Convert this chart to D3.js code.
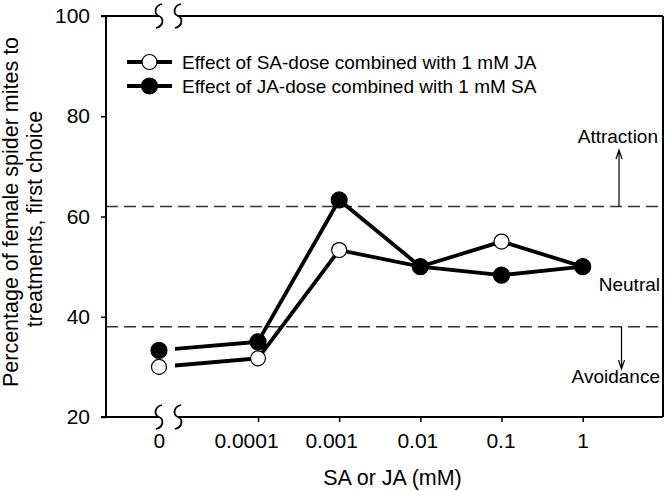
<!DOCTYPE html>
<html><head><meta charset="utf-8">
<script src="https://cdn.jsdelivr.net/npm/d3@7"></script>
<style>
body{margin:0;background:#fff}
text{font-family:"Liberation Sans",Arial,Helvetica,sans-serif;fill:#000}
</style>
</head><body><svg id="c" width="668" height="491"></svg>
<script>
// ---- data ----
const doses = [0, 0.0001, 0.001, 0.01, 0.1, 1];
const tickLabels = ["0", "0.0001", "0.001", "0.01", "0.1", "1"];
const saDoseWithJA = [30.0, 31.7, 53.3, 50.0, 55.0, 50.0];
const jaDoseWithSA = [33.3, 35.0, 63.3, 50.0, 48.3, 50.0];
const yTicks = [20, 40, 60, 80, 100];
const thresholds = [62, 38];
const seriesNames = ["Effect of SA-dose combined with 1 mM JA", "Effect of JA-dose combined with 1 mM SA"];
const zoneLabels = ["Attraction", "Neutral", "Avoidance"];

// ---- layout ----
const svg = d3.select("#c");
const L = 106, R = 663, T = 16, B = 417;
const xLog = d3.scaleLog().domain([1e-4, 1]).range([258, 582.7]);
const zeroStandIn = Math.pow(10, -5.22); // broken-axis position for dose 0
const xp = d => d === 0 ? xLog(zeroStandIn) : xLog(d);
const y = d3.scaleLinear().domain([20, 100]).range([B, T]);
const bA = xp(0), bB = xp(0) + 19;
const labelNudge = [0, -12, -8, -3, -1, 0]; // label offsets as in the original figure

// ---- threshold dashed lines ----
svg.append("g").selectAll("line").data(thresholds).join("line")
  .attr("x1", L).attr("x2", R)
  .attr("y1", d => y(d)).attr("y2", d => y(d))
  .attr("stroke", "#333").attr("stroke-width", 1.5)
  .attr("stroke-dasharray", "12,6");

// ---- y axis ----
const yAx = svg.append("g").attr("transform", `translate(${L},0)`)
  .call(d3.axisLeft(y).tickValues(yTicks).tickSize(5).tickPadding(11));
yAx.select(".domain").remove();
yAx.selectAll("line").attr("stroke", "#000").attr("stroke-width", 1.5);
yAx.selectAll("text").attr("font-size", 21).attr("font-family", "Liberation Sans, Arial, sans-serif").attr("fill", "#000");

// ---- x axis ----
const xVals = doses.map(d => d === 0 ? zeroStandIn : d);
const xAx = svg.append("g").attr("transform", `translate(0,${B})`)
  .call(d3.axisBottom(xLog).tickValues(xVals).tickFormat((d, i) => tickLabels[i]).tickSize(5).tickPadding(11));
xAx.select(".domain").remove();
xAx.selectAll("line").attr("stroke", "#000").attr("stroke-width", 1.5);
xAx.selectAll(".tick").filter((d, i) => i === 0).select("line").remove();
xAx.selectAll(".tick").each(function(d, i) {
  d3.select(this).select("text")
    .attr("x", labelNudge[i])
    .attr("font-size", 21).attr("font-family", "Liberation Sans, Arial, sans-serif").attr("fill", "#000");
});

// ---- frame with axis breaks ----
const frame = svg.append("g").attr("fill", "none").attr("stroke", "#000").attr("stroke-width", 2);
frame.append("path").attr("d", `M${L},${T}V${B}M${R},${T}V${B}`);
[T, B].forEach(yy => {
  frame.append("path").attr("d", `M${L - 5},${yy}H${bA}M${bB},${yy}H${R}`);
  [bA, bB].forEach(bx => {
    frame.append("path").attr("stroke-width", 1.8)
      .attr("d", `M${bx + 3},${yy - 12} C${bx - 5},${yy - 10} ${bx - 5},${yy - 2} ${bx},${yy} C${bx + 5},${yy + 2} ${bx + 5},${yy + 10} ${bx - 3},${yy + 12}`);
  });
});

// ---- series ----
svg.append("clipPath").attr("id", "clipBreak").append("rect")
  .attr("x", bB - 3).attr("y", 0).attr("width", R - bB + 3).attr("height", 491);
const line = d3.line().x((d, i) => xp(doses[i])).y(d => y(d));
const series = [
  {vals: saDoseWithJA, fill: "#fff", r: 7.5},
  {vals: jaDoseWithSA, fill: "#000", r: 8}
];
series.forEach(s => {
  svg.append("path").datum(s.vals).attr("d", line)
    .attr("fill", "none").attr("stroke", "#000").attr("stroke-width", 3.8)
    .attr("clip-path", "url(#clipBreak)");
});
series.forEach(s => {
  svg.append("g").selectAll("circle").data(s.vals).join("circle")
    .attr("cx", (d, i) => xp(doses[i])).attr("cy", d => y(d)).attr("r", s.r)
    .attr("fill", s.fill).attr("stroke", "#000").attr("stroke-width", 1.2);
});

// ---- legend ----
const lg = svg.append("g");
series.forEach((s, i) => {
  const ly = 62 + i * 24;
  lg.append("line").attr("x1", 127).attr("x2", 172).attr("y1", ly).attr("y2", ly)
    .attr("stroke", "#000").attr("stroke-width", 3.8);
  lg.append("circle").attr("cx", 149.5).attr("cy", ly).attr("r", s.r)
    .attr("fill", s.fill).attr("stroke", "#000").attr("stroke-width", 1.2);
  lg.append("text").attr("x", 182).attr("y", ly + 7).attr("font-size", 19).text(seriesNames[i]);
});

// ---- zone annotations ----
const ann = svg.append("g");
ann.append("text").attr("x", 658).attr("y", 143).attr("text-anchor", "end").attr("font-size", 19).text(zoneLabels[0]);
ann.append("text").attr("x", 660).attr("y", 291).attr("text-anchor", "end").attr("font-size", 19).text(zoneLabels[1]);
ann.append("text").attr("x", 660).attr("y", 383).attr("text-anchor", "end").attr("font-size", 19).text(zoneLabels[2]);
const arrows = [
  {x: 619, y0: y(thresholds[0]), y1: 150, dir: -1},
  {x: 621.5, y0: y(thresholds[1]), y1: 369, dir: 1}
];
arrows.forEach(a => {
  ann.append("path")
    .attr("d", `M${a.x},${a.y0}V${a.y1}M${a.x - 3},${a.y1 - a.dir * 9}L${a.x},${a.y1}L${a.x + 3},${a.y1 - a.dir * 9}`)
    .attr("fill", "none").attr("stroke", "#000").attr("stroke-width", 1.2);
});

// ---- axis titles ----
svg.append("text").attr("x", 392.5).attr("y", 485).attr("text-anchor", "middle").attr("font-size", 21.5).text("SA or JA (mM)");
svg.append("text").attr("transform", "translate(18,212) rotate(-90)").attr("text-anchor", "middle").attr("font-size", 21.5)
  .text("Percentage of female spider mites to");
svg.append("text").attr("transform", "translate(41.5,219) rotate(-90)").attr("text-anchor", "middle").attr("font-size", 21.5)
  .text("treatments, first choice");
</script>
</body></html>
